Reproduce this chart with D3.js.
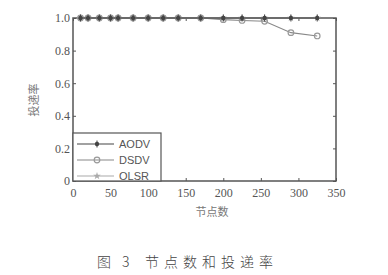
<!DOCTYPE html>
<html>
<head>
<meta charset="utf-8">
<script src="https://cdn.jsdelivr.net/npm/d3@7"></script>
<style>
  body { margin: 0; background: #fff; }
  svg { display: block; }
  .tick text { font-family: "Liberation Serif", "DejaVu Serif", serif; }
</style>
</head>
<body>
<svg width="388" height="275"></svg>
<script>
/* Daten */
const nodeCounts = [10, 20, 35, 50, 60, 80, 100, 120, 140, 170, 200, 225, 255, 290, 325];
const aodv = [1, 1, 1, 1, 1, 1, 1, 1, 1, 1, 1, 1, 1, 1, 1];
const dsdv = [1, 1, 1, 1, 1, 1, 1, 1, 1, 1, 0.99, 0.985, 0.98, 0.91, 0.89];
const olsr = [1, 1, 1, 1, 1, 1, 1, 1, 1, 1, 1, 1, 1, 1, 1];
const xTicks = [0, 50, 100, 150, 200, 250, 300, 350];
const yTicks = [0, 0.2, 0.4, 0.6, 0.8, 1.0];
const seriesNames = ["AODV", "DSDV", "OLSR"];

/* Optionen */
const svg = d3.select("svg");
const plotLeft = 73, plotRight = 336, plotTop = 18, plotBottom = 181;
const axisColor = "#555";
const serif = "Liberation Serif";
const cjk = "Noto Sans CJK SC";

const x = d3.scaleLinear().domain([0, 350]).range([plotLeft, plotRight]);
const y = d3.scaleLinear().domain([0, 1]).range([plotBottom, plotTop]);

const styles = {
  AODV: { color: "#444", values: aodv },
  DSDV: { color: "#888", values: dsdv },
  OLSR: { color: "#aaa", values: olsr }
};

// Rahmen
svg.append("rect")
  .attr("x", plotLeft).attr("y", plotTop)
  .attr("width", plotRight - plotLeft).attr("height", plotBottom - plotTop)
  .attr("fill", "none").attr("stroke", axisColor).attr("stroke-width", 1.5);

// Achsen (Ticks nach innen)
const xAxis = svg.append("g")
  .attr("transform", "translate(0," + plotBottom + ")")
  .call(d3.axisBottom(x).tickValues(xTicks).tickSize(-3).tickPadding(7).tickFormat(d3.format("d")));
const yAxis = svg.append("g")
  .attr("transform", "translate(" + plotLeft + ",0)")
  .call(d3.axisLeft(y).tickValues(yTicks).tickSize(-3).tickPadding(3)
    .tickFormat(d => d === 0 ? "0" : d3.format(".1f")(d)));
svg.append("g")
  .attr("transform", "translate(" + plotRight + ",0)")
  .call(d3.axisRight(y).tickValues(yTicks).tickSize(-3).tickFormat(""));
svg.append("g")
  .attr("transform", "translate(0," + plotTop + ")")
  .call(d3.axisTop(x).tickValues(xTicks).tickSize(-3).tickFormat(""));

svg.selectAll(".domain").remove();
svg.selectAll(".tick line").attr("stroke", axisColor);
[xAxis, yAxis].forEach(a => {
  a.attr("font-family", serif).attr("font-size", 12);
  a.selectAll("text").attr("fill", "#555");
});

// Linien
const line = d3.line()
  .x((d, i) => x(nodeCounts[i]))
  .y(d => y(d));

function marker(g, name, cx, cy) {
  if (name === "AODV") {
    g.append("circle").attr("cx", cx).attr("cy", cy).attr("r", 2.2)
      .attr("fill", "#444");
    g.append("line").attr("x1", cx).attr("x2", cx).attr("y1", cy - 3.5).attr("y2", cy + 3.5)
      .attr("stroke", "#444").attr("stroke-width", 1);
  } else if (name === "DSDV") {
    g.append("circle").attr("cx", cx).attr("cy", cy).attr("r", 2.8)
      .attr("fill", "none").attr("stroke", "#999").attr("stroke-width", 1.2);
  } else {
    g.append("path").attr("d", d3.symbol(d3.symbolStar, 18)())
      .attr("transform", "translate(" + cx + "," + cy + ")")
      .attr("fill", "#aaa");
  }
}

["OLSR", "DSDV", "AODV"].forEach(name => {
  const s = styles[name];
  const g = svg.append("g");
  g.append("path").datum(s.values)
    .attr("d", line)
    .attr("fill", "none")
    .attr("stroke", s.color)
    .attr("stroke-width", 1.1);
  s.values.forEach((v, i) => marker(g, name, x(nodeCounts[i]), y(v)));
});

// Legende
const legend = svg.append("g");
legend.append("rect")
  .attr("x", plotLeft).attr("y", 133)
  .attr("width", 88).attr("height", plotBottom - 133)
  .attr("fill", "#fff").attr("stroke", axisColor).attr("stroke-width", 1.2);
seriesNames.forEach((name, i) => {
  const ly = 144 + i * 16;
  legend.append("line")
    .attr("x1", 77).attr("x2", 114).attr("y1", ly).attr("y2", ly)
    .attr("stroke", styles[name].color).attr("stroke-width", 1.1);
  marker(legend, name, 97, ly);
  legend.append("text")
    .attr("x", 119).attr("y", ly + 4)
    .attr("fill", "#555")
    .attr("font-family", "Liberation Sans")
    .attr("font-size", 11)
    .text(name);
});

// Beschriftungen
svg.append("text")
  .attr("transform", "translate(38,100) rotate(-90)")
  .attr("text-anchor", "middle")
  .attr("fill", "#777")
  .attr("font-family", cjk)
  .attr("font-size", 11)
  .text("投递率");

svg.append("text")
  .attr("x", 212).attr("y", 216)
  .attr("text-anchor", "middle")
  .attr("fill", "#777")
  .attr("font-family", cjk)
  .attr("font-size", 11)
  .text("节点数");

svg.append("text")
  .attr("x", 97).attr("y", 267)
  .attr("fill", "#444")
  .attr("font-family", cjk)
  .attr("font-size", 14)
  .attr("font-weight", 300)
  .style("letter-spacing", "4px")
  .text("图 3");
svg.append("text")
  .attr("x", 145).attr("y", 267)
  .attr("fill", "#444")
  .attr("font-family", cjk)
  .attr("font-size", 14)
  .attr("font-weight", 300)
  .style("letter-spacing", "5px")
  .text("节点数和投递率");
</script>
</body>
</html>
